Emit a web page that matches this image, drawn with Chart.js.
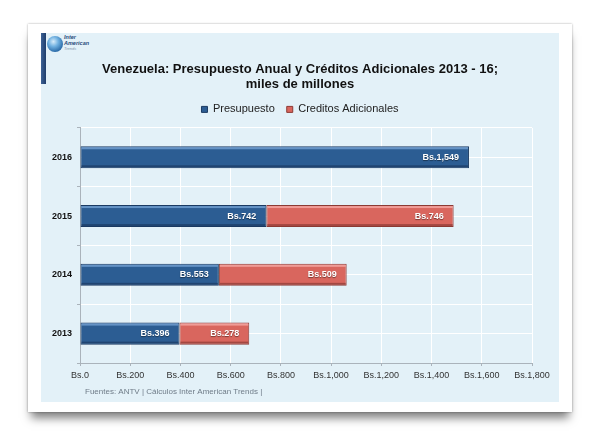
<!DOCTYPE html>
<html>
<head>
<meta charset="utf-8">
<script src="https://cdn.jsdelivr.net/npm/chart.js@4"></script>
<style>
  html, body { margin: 0; padding: 0; background: #fff; }
  body { width: 599px; height: 435px; position: relative; overflow: hidden; font-family: "Liberation Sans", Arial, sans-serif; }
  .card {
    position: absolute; left: 28px; top: 24px; width: 544px; height: 388px;
    background: #fff;
    box-shadow: 0 0 2px rgba(0,0,0,0.35), 0 9px 9px -3px rgba(0,0,0,0.5);
  }
  .panel {
    position: absolute; left: 41px; top: 33px; width: 518px; height: 369px;
    background: #e3f1f8;
  }
  .logoBar {
    position: absolute; left: 41px; top: 33px; width: 5px; height: 51px;
    background: linear-gradient(to right, #3d6296, #1f3d6b);
  }
  .globe {
    position: absolute; left: 47px; top: 36px; width: 16px; height: 16px; border-radius: 50%;
    background: radial-gradient(circle at 40% 35%, #d7ecfa 0%, #6fb0e0 35%, #1f5f9e 80%, #163f6f 100%);
  }
  .logoText { position: absolute; left: 64px; top: 35px; font-style: italic; font-weight: bold; color: #2a4a7a; font-size: 5.5px; line-height: 5.5px; }
  .logoText .t { color: #7f93a8; font-weight: normal; font-size: 4px; }
  .chartBox { position: absolute; left: 41px; top: 33px; width: 518px; height: 369px; }
</style>
</head>
<body>
<div class="card"></div>
<div class="panel"></div>
<div class="logoBar"></div>
<div class="globe"></div>
<div class="logoText">Inter<br>American<br><span class="t">Trends</span></div>
<div class="chartBox"><canvas id="budgetChart"></canvas></div>
<script>
// Data
const years = ['2016', '2015', '2014', '2013'];
const presupuesto = [1549, 742, 553, 396];
const creditos = [null, 746, 509, 278];
const xTicks = [0, 200, 400, 600, 800, 1000, 1200, 1400, 1600, 1800];
const titleLines = ['Venezuela: Presupuesto Anual y Créditos Adicionales 2013 - 16;', 'miles de millones'];
const sourceNote = 'Fuentes: ANTV | Cálculos Inter American Trends |';

const fontFamily = '"Liberation Sans", Arial, sans-serif';
const fmt = v => 'Bs.' + v.toLocaleString('en-US');

// bar colours: main, top highlight, dark edge
const barStyles = [
  { fill: '#2c5d93', light: 'rgba(120,165,215,0.75)', dark: '#1b3a62' },
  { fill: '#d9665e', light: 'rgba(245,170,165,0.8)', dark: '#8c3a34' }
];

// extra space under the legend
const legendSpacer = {
  id: 'legendSpacer',
  beforeInit(chart) {
    const fit = chart.legend.fit;
    chart.legend.fit = function () {
      fit.bind(chart.legend)();
      this.height += 3;
    };
  }
};

// bevel look + value labels
const barDecor = {
  id: 'barDecor',
  afterDatasetsDraw(chart) {
    const ctx = chart.ctx;
    chart.data.datasets.forEach((ds, di) => {
      const meta = chart.getDatasetMeta(di);
      const st = barStyles[di];
      meta.data.forEach((bar, i) => {
        const v = ds.data[i];
        if (v == null) return;
        const p = bar.getProps(['x', 'y', 'base', 'height'], true);
        const left = Math.min(p.base, p.x), right = Math.max(p.base, p.x);
        const top = p.y - p.height / 2;
        ctx.save();
        ctx.fillStyle = st.light;
        ctx.fillRect(left + 1, top + 1, right - left - 2, 2);
        ctx.fillStyle = st.dark;
        ctx.globalAlpha = 0.7;
        ctx.fillRect(left + 1, top + p.height - 3, right - left - 2, 2);
        ctx.globalAlpha = 1;
        ctx.font = 'bold 9px ' + fontFamily;
        ctx.textAlign = 'right';
        ctx.textBaseline = 'middle';
        ctx.shadowColor = 'rgba(0,0,0,0.45)';
        ctx.shadowBlur = 1;
        ctx.shadowOffsetY = 1;
        ctx.fillStyle = '#ffffff';
        ctx.fillText(fmt(v), right - 10, p.y);
        ctx.restore();
      });
    });
  }
};

// source line under the axis
const sourceText = {
  id: 'sourceText',
  afterDraw(chart) {
    const ctx = chart.ctx;
    ctx.save();
    ctx.font = '8px ' + fontFamily;
    ctx.fillStyle = '#6f7c88';
    ctx.textBaseline = 'middle';
    ctx.fillText(sourceNote, chart.chartArea.left + 5, chart.height - 10);
    ctx.restore();
  }
};

new Chart(document.getElementById('budgetChart'), {
  type: 'bar',
  data: {
    labels: years,
    datasets: [
      {
        label: 'Presupuesto',
        data: presupuesto,
        backgroundColor: barStyles[0].fill,
        borderColor: barStyles[0].dark,
        borderWidth: 1,
        borderSkipped: false,
        barPercentage: 0.375,
        categoryPercentage: 1
      },
      {
        label: 'Creditos Adicionales',
        data: creditos,
        backgroundColor: barStyles[1].fill,
        borderColor: barStyles[1].dark,
        borderWidth: 1,
        borderSkipped: false,
        barPercentage: 0.375,
        categoryPercentage: 1
      }
    ]
  },
  options: {
    indexAxis: 'y',
    responsive: true,
    maintainAspectRatio: false,
    animation: false,
    layout: { padding: { top: 29, left: 0, right: 0, bottom: 15 } },
    plugins: {
      title: {
        display: true,
        text: titleLines,
        color: '#111',
        font: { family: fontFamily, size: 13, weight: 'bold', lineHeight: 1.15 },
        padding: { top: 0, bottom: 0 }
      },
      legend: {
        position: 'top',
        labels: {
          boxWidth: 6,
          boxHeight: 6,
          padding: 12,
          color: '#222',
          font: { family: fontFamily, size: 11 }
        }
      },
      tooltip: { enabled: false }
    },
    scales: {
      x: {
        stacked: true,
        min: 0,
        max: 1800,
        afterBuildTicks: axis => { axis.ticks = xTicks.map(v => ({ value: v })); },
        afterFit: axis => { axis.height = 24; },
        grid: { color: '#ffffff', lineWidth: 1, tickColor: '#aab3bb', tickLength: 3 },
        border: { color: '#aab3bb' },
        ticks: {
          color: '#333',
          padding: 4,
          maxRotation: 0,
          font: { family: fontFamily, size: 9 },
          callback: v => fmt(v)
        }
      },
      y: {
        stacked: true,
        afterFit: axis => { axis.width = 39; },
        grid: { color: '#ffffff', lineWidth: 1, tickColor: '#aab3bb', tickLength: 3 },
        border: { color: '#aab3bb' },
        ticks: {
          color: '#111',
          padding: 5,
          font: { family: fontFamily, size: 9, weight: 'bold' }
        }
      },
      y2: {
        type: 'category',
        axis: 'y',
        labels: years,
        position: 'left',
        offset: true,
        afterFit: axis => { axis.width = 0; },
        grid: { offset: false, color: '#ffffff', lineWidth: 1, drawTicks: false },
        border: { display: false },
        ticks: { display: false }
      },
      // empty axis that keeps the right margin so title and legend stay centred on the panel
      yRight: {
        type: 'category',
        axis: 'y',
        labels: years,
        position: 'right',
        afterFit: axis => { axis.width = 27; },
        grid: { display: false, drawTicks: false },
        border: { display: false },
        ticks: { display: false }
      }
    }
  },
  plugins: [legendSpacer, barDecor, sourceText]
});
</script>
</body>
</html>
